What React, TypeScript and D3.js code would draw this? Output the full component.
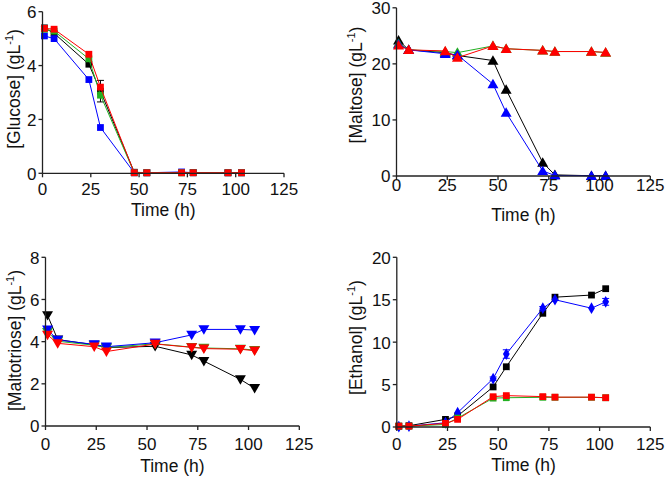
import React from "react";
import * as d3 from "d3";

const times = [1, 6, 24, 30, 47.5, 54, 72, 78, 96, 103];
const timesTriose = [1, 6, 24, 30, 54, 72, 78, 96, 103];
const xTicks = [0, 25, 50, 75, 100, 125];

const glucoseBlack = [5.4, 5.2, 4.05, 3.05, 0.04, 0.02, 0.02, 0.03, 0.02, 0.02];
const glucoseBlackErr = [0.05, 0, 0, 0.4, 0, 0, 0, 0, 0, 0];
const glucoseBlue = [5.1, 5.0, 3.48, 1.7, 0.02, 0.02, 0.05, 0.02, 0.02, 0.02];
const glucoseGreen = [5.35, 5.28, 4.25, 2.9, 0.02, 0.02, 0.02, 0.02, 0.02, 0.02];
const glucoseRed = [5.38, 5.35, 4.42, 3.2, 0.02, 0.02, 0.02, 0.02, 0.02, 0.02];
const glucoseTicks = [0, 2, 4, 6];

const maltoseBlack = [24.2, 22.5, 22.0, 21.5, 20.6, 15.4, 2.4, 0.2, 0.05, 0.05];
const maltoseBlue = [23.5, 22.5, 21.8, 21.6, 16.4, 11.3, 0.9, 0.1, 0.05, 0.05];
const maltoseGreen = [23.6, 22.5, 22.2, 22.0, 23.2, 22.7, 22.4, 22.2, 22.2, 22.0];
const maltoseRed = [23.3, 22.5, 22.3, 21.1, 23.2, 22.7, 22.4, 22.2, 22.2, 22.05];
const maltoseTicks = [0, 10, 20, 30];

const trioseBlack = [5.25, 4.1, 3.85, 3.72, 3.78, 3.37, 3.08, 2.21, 1.79];
const trioseBlue = [4.57, 4.08, 3.87, 3.76, 3.95, 4.32, 4.58, 4.58, 4.55];
const trioseGreen = [4.45, 4.02, 3.83, 3.72, 3.9, 3.74, 3.7, 3.66, 3.6];
const trioseRed = [4.32, 3.92, 3.76, 3.53, 3.89, 3.73, 3.67, 3.64, 3.57];
const trioseTicks = [0, 2, 4, 6, 8];

const ethanolBlack = [0.1, 0.15, 0.9, 1.3, 4.72, 7.1, 13.4, 15.3, 15.55, 16.3];
const ethanolBlue = [0.05, 0.1, 0.5, 1.69, 5.7, 8.6, 14.0, 15.0, 14.0, 14.75];
const ethanolBlueErr = [0, 0, 0, 0, 0.2, 0.5, 0.2, 0, 0, 0.4];
const ethanolGreen = [0.1, 0.1, 0.3, 1.05, 3.4, 3.45, 3.5, 3.5, 3.5, 3.45];
const ethanolRed = [0.1, 0.1, 0.43, 0.9, 3.57, 3.7, 3.58, 3.52, 3.52, 3.45];
const ethanolTicks = [0, 5, 10, 15, 20];

const C = { black: "#000000", blue: "#0000ff", green: "#22b022", red: "#ff0000" };
const FONT = "'Liberation Sans', Arial, sans-serif";

type Series = { t: number[]; v: number[]; err?: number[]; color: string };

function Panel(props: {
  x0: number; x1: number; yb: number; yt: number; ymax: number; yTicks: number[];
  series: Series[]; symbol: "square" | "up" | "down"; blueDiamond?: boolean;
  label: string; labelX: number; labelY: number; tickBase: number; timeBase: number;
}) {
  const p = props;
  const x = d3.scaleLinear().domain([0, 125]).range([p.x0, p.x1]);
  const y = d3.scaleLinear().domain([0, p.ymax]).range([p.yb, p.yt]);
  const line = d3.line<[number, number]>().x(d => x(d[0])).y(d => y(d[1]));
  const sq = d3.symbol().type(d3.symbolSquare).size(46)()!;
  const tri = d3.symbol().type(d3.symbolTriangle).size(52)()!;
  const dia = d3.symbol().type(d3.symbolDiamond).size(40)()!;
  const ax = "#222";
  return (
    <g fontFamily={FONT}>
      {p.series.map((s, i) => {
        const pts = s.t.map((t, j) => [t, s.v[j]] as [number, number]);
        const isDia = p.blueDiamond && s.color === C.blue;
        const path = isDia ? dia : p.symbol === "square" ? sq : tri;
        const rot = p.symbol === "down" ? 180 : 0;
        const dy = p.symbol === "up" && !isDia ? 1 : p.symbol === "down" ? -1 : 0;
        return (
          <g key={i}>
            <path d={line(pts)!} fill="none" stroke={s.color} strokeWidth={1} />
            {s.err && pts.map((d, j) => s.err![j] > 0 ? (
              <g key={"e" + j} stroke={s.color} strokeWidth={1}>
                <line x1={x(d[0])} x2={x(d[0])} y1={y(d[1] - s.err![j])} y2={y(d[1] + s.err![j])} />
                <line x1={x(d[0]) - 3.5} x2={x(d[0]) + 3.5} y1={y(d[1] + s.err![j])} y2={y(d[1] + s.err![j])} />
                <line x1={x(d[0]) - 3.5} x2={x(d[0]) + 3.5} y1={y(d[1] - s.err![j])} y2={y(d[1] - s.err![j])} />
              </g>
            ) : null)}
            {pts.map((d, j) => (
              <path key={j} d={path} fill={s.color}
                transform={`translate(${x(d[0])},${y(d[1]) + dy}) rotate(${rot})`} />
            ))}
          </g>
        );
      })}
      <line x1={p.x0} x2={p.x1} y1={p.yb} y2={p.yb} stroke={ax} strokeWidth={1.3} />
      <line x1={p.x0} x2={p.x0} y1={p.yb} y2={p.yt} stroke={ax} strokeWidth={1.3} />
      {xTicks.map(t => (
        <g key={t}>
          <line x1={x(t)} x2={x(t)} y1={p.yb} y2={p.yb + 4} stroke={ax} strokeWidth={1.3} />
          <text x={x(t)} y={p.tickBase} textAnchor="middle" fontSize={17} fill="#111">{t}</text>
        </g>
      ))}
      {p.yTicks.map(t => (
        <g key={t}>
          <line x1={p.x0 - 4} x2={p.x0} y1={y(t)} y2={y(t)} stroke={ax} strokeWidth={1.3} />
          <text x={p.x0 - 6} y={y(t)} dy="0.38em" textAnchor="end" fontSize={17} fill="#111">{t}</text>
        </g>
      ))}
      <text x={(p.x0 + p.x1) / 2} y={p.timeBase} textAnchor="middle" fontSize={17.5} fill="#111">Time (h)</text>
      <text transform={`translate(${p.labelX},${p.labelY}) rotate(-90)`} textAnchor="middle" fontSize={17.5} fill="#111">
        {p.label} (gL<tspan fontSize={11} dy={-7}>-1</tspan><tspan dy={7}>)</tspan>
      </text>
    </g>
  );
}

export default function App() {
  return (
    <svg width={666} height={478} style={{ position: "absolute", left: 0, top: 0, background: "#fff" }}>
      <Panel x0={42.5} x1={284} yb={173.3} yt={11.7} ymax={6} yTicks={glucoseTicks}
        series={[
          { t: times, v: glucoseBlack, err: glucoseBlackErr, color: C.black },
          { t: times, v: glucoseBlue, color: C.blue },
          { t: times, v: glucoseGreen, color: C.green },
          { t: times, v: glucoseRed, color: C.red },
        ]}
        symbol="square" label="[Glucose]" labelX={19.5} labelY={89} tickBase={195} timeBase={216} />
      <Panel x0={396.5} x1={650.3} yb={176} yt={7.8} ymax={30} yTicks={maltoseTicks}
        series={[
          { t: times, v: maltoseBlack, color: C.black },
          { t: times, v: maltoseGreen, color: C.green },
          { t: times, v: maltoseBlue, color: C.blue },
          { t: times, v: maltoseRed, color: C.red },
        ]}
        symbol="up" label="[Maltose]" labelX={361.5} labelY={85} tickBase={191} timeBase={221} />
      <Panel x0={45.5} x1={299.3} yb={426} yt={257.3} ymax={8} yTicks={trioseTicks}
        series={[
          { t: timesTriose, v: trioseBlack, color: C.black },
          { t: timesTriose, v: trioseGreen, color: C.green },
          { t: timesTriose, v: trioseBlue, color: C.blue },
          { t: timesTriose, v: trioseRed, color: C.red },
        ]}
        symbol="down" label="[Maltotriose]" labelX={20.5} labelY={340.5} tickBase={450} timeBase={471.5} />
      <Panel x0={396.8} x1={650.3} yb={427} yt={257.3} ymax={20} yTicks={ethanolTicks}
        series={[
          { t: times, v: ethanolBlack, color: C.black },
          { t: times, v: ethanolBlue, err: ethanolBlueErr, color: C.blue },
          { t: times, v: ethanolGreen, color: C.green },
          { t: times, v: ethanolRed, color: C.red },
        ]}
        symbol="square" blueDiamond label="[Ethanol]" labelX={361.5} labelY={337.5} tickBase={449.5} timeBase={471} />
    </svg>
  );
}
